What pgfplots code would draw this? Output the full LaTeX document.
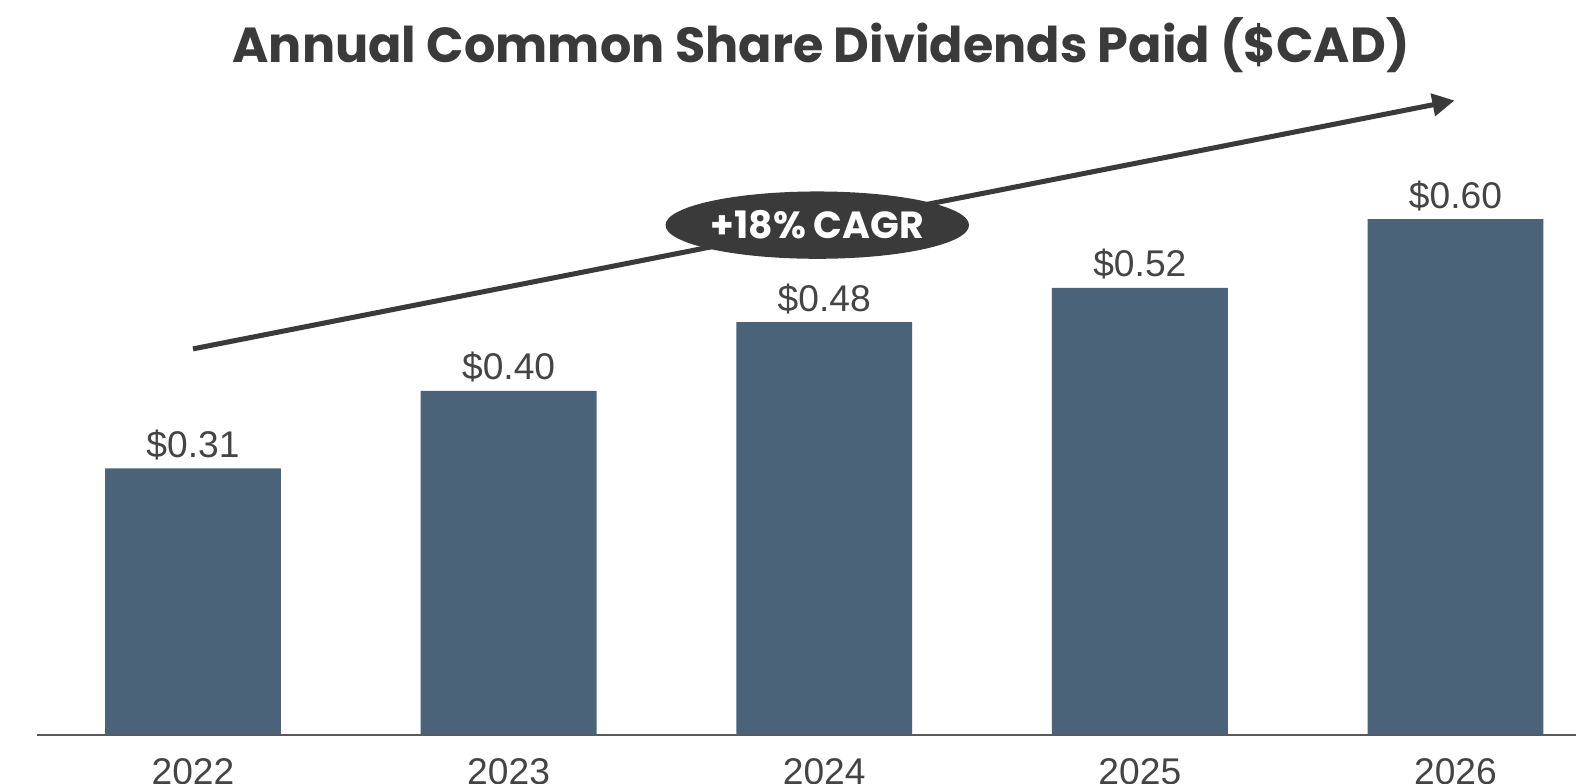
\documentclass[border=0pt]{standalone}
\usepackage{fontspec}
\usepackage{pgfplots}
\pgfplotsset{compat=1.18}
\usetikzlibrary{shapes.geometric, arrows.meta}
\setmainfont{Liberation Sans}
\newfontfamily\titlefont{Poppins}
\definecolor{barBlue}{HTML}{4A6378}
\definecolor{darkText}{HTML}{3A3A3A}
\definecolor{labelText}{HTML}{444444}

\begin{document}
\begin{tikzpicture}
\begin{axis}[
    scale only axis,
    width=765.5pt,
    height=365.5pt,
    xmin=-0.4936, xmax=4.382,
    ymin=0, ymax=0.855,
    axis x line=bottom,
    axis y line=none,
    x axis line style={-, draw=black!65, line width=1pt},
    xtick={0,1,2,3,4},
    xticklabels={2022,2023,2024,2025,2026},
    major tick length=0pt,
    xticklabel style={font=\fontsize{18.5}{20}\selectfont, text=labelText, anchor=base, yshift=-25pt, inner sep=0pt},
    ytick=\empty,
    clip=false,
    ybar,
    bar width=87.5pt,
    bar shift=0pt,
    /pgf/number format/assume math mode=true,
    nodes near coords={\$\pgfmathprintnumber[fixed, fixed zerofill, precision=2]{\pgfplotspointmeta}},
    nodes near coords style={font=\fontsize{18.5}{20}\selectfont, text=labelText, anchor=base, yshift=5.5pt, inner sep=0pt},
]
\addplot[fill=barBlue, draw=none] coordinates {(0,0.31) (1,0.40) (2,0.48) (3,0.52) (4,0.60)};

% growth arrow
\draw[darkText, line width=2.5pt, -{Triangle[length=11pt, width=11pt]}]
    (axis cs:0,0.449) -- (axis cs:3.997,0.738);
\node[ellipse, fill=darkText, minimum width=151pt, minimum height=33.5pt, inner sep=0pt,
      text=white, font=\titlefont\bfseries\fontsize{18.8}{20}\selectfont]
    at (axis cs:1.978,0.593) {+18\% CAGR};

% title
\node[font=\titlefont\bfseries\fontsize{24.5}{26}\selectfont, text=darkText]
    at (axis cs:1.990,0.802) {Annual Common Share Dividends Paid (\$CAD)};

\coordinate (bl) at (axis cs:-0.6115,-0.0573);
\coordinate (tr) at (axis cs:4.382,0.855);
\end{axis}
\pgfresetboundingbox
\useasboundingbox (bl) rectangle (tr);
\end{tikzpicture}
\end{document}
